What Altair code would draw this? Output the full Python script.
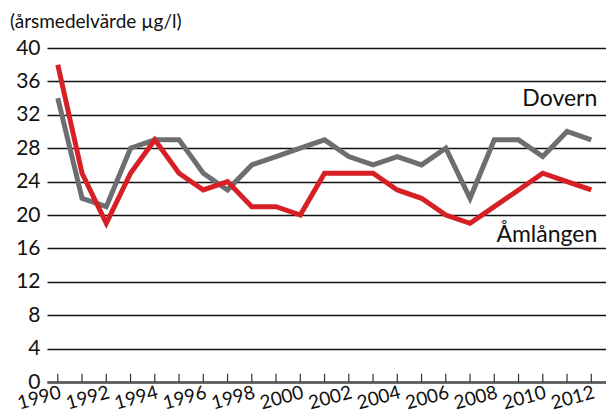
import altair as alt
import pandas as pd

years = list(range(1990, 2013))
dovern = [34, 22, 21, 28, 29, 29, 25, 23, 26, 27, 28, 29, 27, 26, 27, 26, 28, 22, 29, 29, 27, 30, 29]
amlangen = [38, 25, 19, 25, 29, 25, 23, 24, 21, 21, 20, 25, 25, 25, 23, 22, 20, 19, 21, 23, 25, 24, 23]
tick_labels = list(range(1990, 2013, 2))
y_ticks = list(range(0, 41, 4))

FONT = "Lato"
RED = "#d71f26"
GREY = "#6d6e71"

df = pd.DataFrame({
    "year": years * 2,
    "value": dovern + amlangen,
    "series": ["Dovern"] * len(years) + ["Åmlången"] * len(years),
})

xscale = alt.Scale(domain=[1989.555, 2012.607], nice=False, zero=False)
yscale = alt.Scale(domain=[0, 40], nice=False)

xaxis = alt.Axis(values=tick_labels, format="d", title=None, grid=False,
                 ticks=False, labelAngle=345, labelAlign="right",
                 labelBaseline="top", labelFontSize=19, labelFont=FONT,
                 labelColor="#111", labelPadding=1, labelFlush=False,
                 labelOverlap=False, labelBound=False,
                 domainColor="#555", domainWidth=2.5)
yaxis = alt.Axis(values=y_ticks, title=None, grid=True, gridColor="#111",
                 gridWidth=1.5, ticks=False, domain=False,
                 labelOverlap=False,
                 labelFontSize=21, labelFont=FONT, labelColor="#111",
                 labelPadding=7)

lines = alt.Chart(df).mark_line(strokeWidth=5, strokeJoin="miter").encode(
    x=alt.X("year:Q", scale=xscale, axis=xaxis),
    y=alt.Y("value:Q", scale=yscale, axis=yaxis),
    color=alt.Color("series:N", scale=alt.Scale(domain=["Dovern", "Åmlången"], range=[GREY, RED]),
                    legend=None),
)

ticks_df = pd.DataFrame({"year": years, "y0": [0] * len(years), "y1": [1] * len(years)})
ticks = alt.Chart(ticks_df).mark_rule(color="#333", strokeWidth=1.2).encode(
    x=alt.X("year:Q", scale=xscale, axis=xaxis),
    y=alt.Y("y0:Q", scale=yscale, axis=yaxis),
    y2="y1:Q",
)

lab_df = pd.DataFrame({"year": [2012, 2012], "value": [33.9, 17.6], "label": ["Dovern", "Åmlången"]})
labels = alt.Chart(lab_df).mark_text(align="right", baseline="middle", fontSize=23,
                                     font=FONT, color="#111", dx=6).encode(
    x=alt.X("year:Q", scale=xscale, axis=xaxis),
    y=alt.Y("value:Q", scale=yscale, axis=yaxis),
    text="label:N",
)

chart = alt.layer(ticks, lines, labels).properties(
    width=559, height=334,
    autosize=alt.AutoSizeParams(type="none"),
    padding={"left": 39, "top": 40, "right": 0, "bottom": 30},
    title=alt.Title("(årsmedelvärde µg/l)", anchor="start", frame="group", dx=-37, offset=5,
                    fontSize=19, font=FONT, fontWeight="normal", color="#111"),
).configure_view(stroke=None)

chart.save("out.html", embed_options={"renderer": "svg", "actions": False})
